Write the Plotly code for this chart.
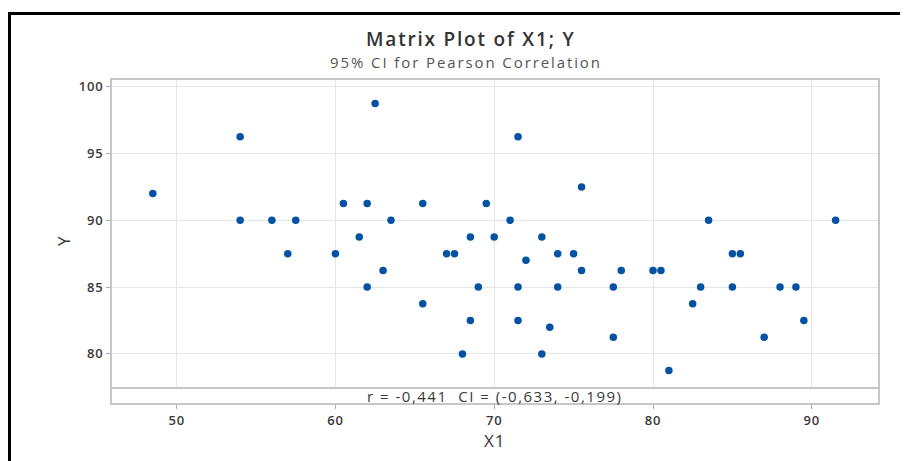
import plotly.graph_objects as go

x1 = [48.5, 54.0, 54.0, 56.0, 57.5, 57.0, 60.0, 60.5, 61.5, 62.0, 62.0, 62.5, 63.0, 63.5,
      65.5, 65.5, 67.0, 67.5, 68.0, 68.5, 68.5, 69.0, 69.5, 70.0, 71.0, 71.5, 71.5, 71.5,
      72.0, 73.0, 73.0, 73.5, 74.0, 74.0, 75.0, 75.5, 75.5, 77.5, 77.5, 78.0, 80.0, 80.5,
      81.0, 82.5, 83.0, 83.5, 85.0, 85.5, 85.0, 87.0, 88.0, 89.0, 89.5, 91.5]
y = [92.0, 96.25, 90.0, 90.0, 90.0, 87.5, 87.5, 91.25, 88.75, 91.25, 85.0, 98.75, 86.25, 90.0,
     91.25, 83.75, 87.5, 87.5, 80.0, 88.75, 82.5, 85.0, 91.25, 88.75, 90.0, 96.25, 85.0, 82.5,
     87.0, 88.75, 80.0, 82.0, 87.5, 85.0, 87.5, 92.5, 86.25, 85.0, 81.25, 86.25, 86.25, 86.25,
     78.75, 83.75, 85.0, 90.0, 87.5, 87.5, 85.0, 81.25, 85.0, 85.0, 82.5, 90.0]

x_ticks = [50, 60, 70, 80, 90]
y_ticks = [80, 85, 90, 95, 100]
title = "Matrix Plot of X1; Y"
subtitle = "95% CI for Pearson Correlation"
stat_text = "r = -0,441  CI = (-0,633, -0,199)"

FONT = "Open Sans"
FRAME = "#c6c6c6"
GRID = "#e6e6e6"
TXT = "#3a3a3a"

OFF = 8  # page body margin
W, H = 908 - OFF, 461 - OFF
L, R, T, B = 112 - OFF, 878 - OFF, 80 - OFF, 403 - OFF
SEP = 387.3 - OFF
strip_frac = (B - SEP) / (B - T)


def px(p):
    return (p - OFF - L) / (R - L)


def py(p):
    return (B - (p - OFF)) / (B - T)


def spaced(s, sp):
    return f'<span style="letter-spacing:{sp}px">{s}</span>'


fig = go.Figure()
fig.add_trace(go.Scatter(x=x1, y=y, mode="markers", xaxis="x", yaxis="y",
                         marker=dict(color="#0452a3", size=7.5, line=dict(width=0)),
                         showlegend=False, hoverinfo="x+y"))
fig.add_trace(go.Scatter(x=[None], y=[None], xaxis="x2", yaxis="y2", showlegend=False))

tickfont = dict(size=13, color=TXT, family=FONT, weight=600)

fig.update_layout(
    width=W, height=H,
    margin=dict(l=L, r=W - R, t=T, b=H - B, autoexpand=False),
    paper_bgcolor="white", plot_bgcolor="white",
    font=dict(family=FONT, color=TXT),
    xaxis=dict(domain=[0, 1], anchor="y", range=[45.93, 94.17],
               tickvals=x_ticks, showticklabels=False, ticks="",
               showgrid=True, gridcolor=GRID, gridwidth=1, zeroline=False,
               showline=True, linecolor=FRAME, linewidth=2, mirror=True),
    yaxis=dict(domain=[strip_frac, 1], anchor="x", range=[77.5, 100.5],
               tickvals=y_ticks, ticktext=[spaced(str(v), 0.8) for v in y_ticks],
               ticks="outside", ticklen=4, tickcolor="#aaaaaa",
               tickfont=tickfont,
               showgrid=True, gridcolor=GRID, gridwidth=1, zeroline=False,
               showline=True, linecolor=FRAME, linewidth=2, mirror=True),
    xaxis2=dict(domain=[0, 1], anchor="y2", matches="x", range=[45.93, 94.17],
                tickvals=x_ticks, ticktext=[spaced(str(v), 0.8) for v in x_ticks],
                ticks="outside", ticklen=4, tickcolor="#aaaaaa",
                tickfont=tickfont,
                showgrid=False, zeroline=False,
                showline=True, linecolor=FRAME, linewidth=2, mirror=False),
    yaxis2=dict(domain=[0, strip_frac], anchor="x2", range=[0, 1],
                showticklabels=False, ticks="", showgrid=False, zeroline=False,
                showline=True, linecolor=FRAME, linewidth=2, mirror=True),
    annotations=[
        dict(text=spaced(title, 1.8), x=px(470), y=py(39), xref="paper", yref="paper",
             showarrow=False, font=dict(size=19, color="#333333", family=FONT, weight=600),
             xanchor="center", yanchor="middle"),
        dict(text=spaced(subtitle, 1.9), x=px(466), y=py(62), xref="paper", yref="paper",
             showarrow=False, font=dict(size=15, color="#555555", family=FONT),
             xanchor="center", yanchor="middle"),
        dict(text=spaced(stat_text, 1.5), x=px(494), y=0.45, xref="paper", yref="y2",
             showarrow=False, font=dict(size=15, color=TXT, family=FONT),
             xanchor="center", yanchor="middle"),
        dict(text=spaced("X1", 1.0), x=px(495), y=py(440), xref="paper", yref="paper",
             showarrow=False, font=dict(size=17, color=TXT, family=FONT),
             xanchor="center", yanchor="middle"),
        dict(text="Y", x=px(63), y=py(241), xref="paper", yref="paper",
             showarrow=False, textangle=-90, font=dict(size=17, color=TXT, family=FONT),
             xanchor="center", yanchor="middle"),
    ],
    shapes=[
        dict(type="line", xref="paper", yref="paper", x0=px(8), x1=px(912),
             y0=py(13.5), y1=py(13.5), line=dict(color="black", width=3)),
        dict(type="line", xref="paper", yref="paper", x0=px(9.5), x1=px(9.5),
             y0=py(12), y1=py(465), line=dict(color="black", width=3)),
    ],
)

fig.write_html("out.html")
